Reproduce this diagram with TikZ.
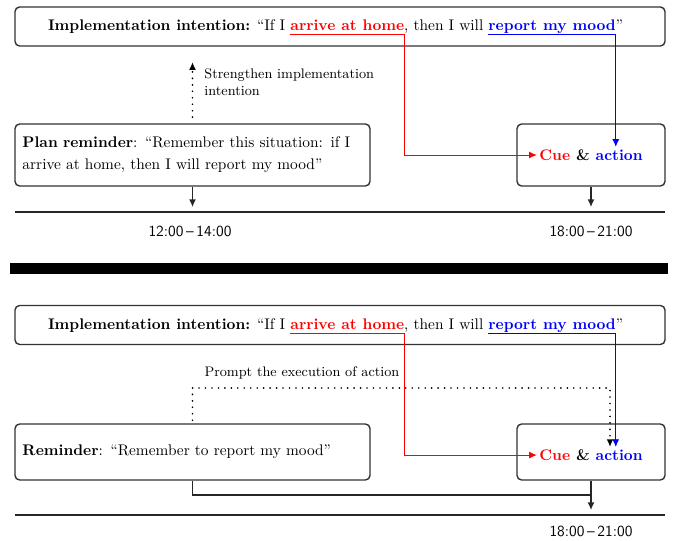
\documentclass[tikz,border=0pt]{standalone}
\usetikzlibrary{arrows.meta,positioning}
\begin{document}
\begin{tikzpicture}[x=0.65pt,y=-0.65pt,
    box/.style={draw=black!80,line width=0.9pt,rounded corners=3pt,inner sep=0pt},
    word/.style={inner sep=0pt,outer sep=0pt,anchor=base west},
    tip/.style={-{Latex[length=5pt,width=4.5pt]}},
    dots/.style={line width=1.2pt,dash pattern=on 0pt off 4.2pt,line cap=round},
    link/.style={line width=0.6pt},
    bold line/.style={draw=black!85,line width=0.9pt},
    time/.style={font=\sffamily}]
\useasboundingbox (0,0) rectangle (674,541);

                % upper panel
                \node[box,minimum width=422.5pt,minimum height=25.35pt] (I1) at (340,26.5) {};
                \node[word] (I1a) at (48,31) {\textbf{Implementation intention:} ``If I};
                \node[word,text=red,font=\bfseries] (I1b) at ([xshift=3.33pt]I1a.base east) {arrive at home};
                \node[word] (I1c) at (I1b.base east) {, then I will};
                \node[word,text=blue,font=\bfseries] (I1d) at ([xshift=3.33pt]I1c.base east) {report my mood};
                \node[word] (I1e) at (I1d.base east) {''};

                \node[box,minimum width=230.75pt,minimum height=40.3pt,text width=221pt,
                      inner xsep=4.875pt,align=left] (P1) at (192.5,155)
                      {\textbf{Plan reminder}: ``Remember this situation: if I\\[2.5pt]
                       arrive at home, then I will report my mood''};
                \node[box,minimum width=96.2pt,minimum height=40.3pt] (C1) at (591,155) {};
                \node[inner sep=1.5pt,font=\bfseries] (C1t) at (C1.center)
                      {\textcolor{red}{Cue} \& \textcolor{blue}{action}};

                \draw[red,link,tip] ([yshift=-2.5pt]I1b.base west) -- ([yshift=-2.5pt]I1b.base east) |- (C1t.west);
                \draw[blue,link,tip] ([yshift=-2.5pt]I1d.base west) -- ([yshift=-2.5pt]I1d.base east) coordinate (M1) -- (M1 |- C1t.north);

                \draw[dots,tip,shorten <=4pt,shorten >=10pt] (P1.north) -- (P1.north |- I1.south);
                \node[font=\small,align=left,anchor=west] (S1) at (199,82) {Strengthen implementation\\intention};

                \coordinate (T1) at (15,212);
                \coordinate (T1r) at (665,212);
                \draw[bold line] (T1) -- (T1r);
                \draw[bold line,tip,shorten >=3.2pt] (P1.south) -- (P1.south |- T1);
                \draw[bold line,tip,shorten >=3.2pt] (C1.south) -- (C1.south |- T1);
                \node[time] (L1) at (190,231) {12:00\,--\,14:00};
                \node[time] (L1r) at (591,231) {18:00\,--\,21:00};

                % separator
                \fill[black] (10,263) rectangle (668,274);

                % lower panel
                \node[box,minimum width=422.5pt,minimum height=25.35pt] (I2) at (340,325) {};
                \node[word] (I2a) at (48,330) {\textbf{Implementation intention:} ``If I};
                \node[word,text=red,font=\bfseries] (I2b) at ([xshift=3.33pt]I2a.base east) {arrive at home};
                \node[word] (I2c) at (I2b.base east) {, then I will};
                \node[word,text=blue,font=\bfseries] (I2d) at ([xshift=3.33pt]I2c.base east) {report my mood};
                \node[word] (I2e) at (I2d.base east) {''};

                \node[box,minimum width=230.75pt,minimum height=36.4pt,text width=221pt,
                      inner xsep=4.875pt,align=left] (R2) at (192.5,452)
                      {\textbf{Reminder}: ``Remember to report my mood''};
                \node[box,minimum width=96.2pt,minimum height=36.4pt] (C2) at (591,452) {};
                \node[inner sep=1.5pt,font=\bfseries] (C2t) at ([yshift=-2pt]C2.center)
                      {\textcolor{red}{Cue} \& \textcolor{blue}{action}};

                \draw[red,link,tip] ([yshift=-2.5pt]I2b.base west) -- ([yshift=-2.5pt]I2b.base east) |- (C2t.west);
                \draw[blue,link,tip] ([yshift=-2.5pt]I2d.base west) -- ([yshift=-2.5pt]I2d.base east) coordinate (M2) -- (M2 |- C2t.north);

                \coordinate (D2) at (610,388);
                \draw[dots,tip,shorten <=2pt] (R2.north) |- (D2) -- (D2 |- C2t.north);
                \node[font=\small] (S2) at (302,373) {Prompt the execution of action};

                \coordinate (T2) at (15,515);
                \coordinate (T2r) at (665,515);
                \coordinate (J2) at (591,495);
                \draw[bold line] (T2) -- (T2r);
                \draw[bold line] (R2.south) |- (J2);
                \draw[bold line,tip,shorten >=3.2pt] (C2.south) -- (C2.south |- T2);
                \node[time] (L2) at (591,531) {18:00\,--\,21:00};
            \end{tikzpicture}
\end{document}
